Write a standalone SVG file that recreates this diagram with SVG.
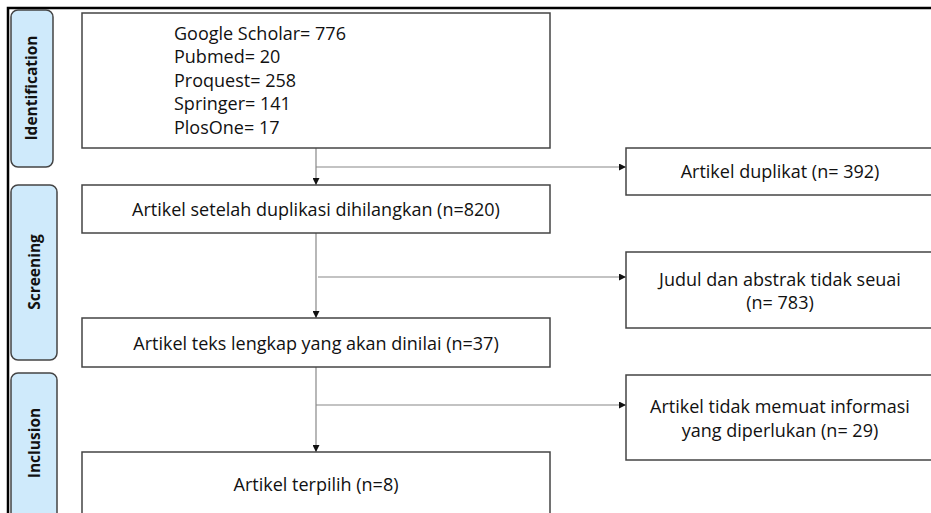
<svg xmlns="http://www.w3.org/2000/svg" width="931" height="513" viewBox="0 0 931 513">
<defs>
<marker id="ah" viewBox="0 0 10 10" refX="10" refY="5" markerWidth="7" markerHeight="7" markerUnits="userSpaceOnUse" orient="auto">
<path d="M0,0 L10,5 L0,10 z" fill="#111"/>
</marker>
<style>
.tab{fill:#cfeafb;stroke:#444;stroke-width:1.5}
.box{fill:#fff;stroke:#444;stroke-width:1.5}
.t{font-family:"Open Sans","Liberation Sans",sans-serif;font-size:18px;fill:#111}
.tl{font-family:"Open Sans","Liberation Sans",sans-serif;font-size:15.5px;font-weight:bold;fill:#111}
.c{fill:none;stroke:#888;stroke-width:1.2}
</style>
</defs>
<rect width="931" height="513" fill="#fff"/>
<path d="M8,513 V8 H931" fill="none" stroke="#000" stroke-width="2.5"/>
<g id="tab-identification">
<rect class="tab" x="11" y="10" width="42" height="157" rx="7"/>
<text class="tl" transform="translate(37,88) rotate(-90)" text-anchor="middle">Identification</text>
</g>
<g id="tab-screening">
<rect class="tab" x="11" y="185" width="46" height="175" rx="7"/>
<text class="tl" transform="translate(40,272) rotate(-90)" text-anchor="middle">Screening</text>
</g>
<g id="tab-inclusion">
<rect class="tab" x="11" y="373" width="46" height="150" rx="7"/>
<text class="tl" transform="translate(40,443) rotate(-90)" text-anchor="middle">Inclusion</text>
</g>
<g id="connectors">
<line class="c" x1="316" y1="148" x2="316" y2="185" marker-end="url(#ah)"/>
<line class="c" x1="316" y1="167" x2="626" y2="167" marker-end="url(#ah)"/>
<line class="c" x1="316" y1="233" x2="316" y2="318" marker-end="url(#ah)"/>
<line class="c" x1="318" y1="277" x2="626" y2="277" marker-end="url(#ah)"/>
<line class="c" x1="316" y1="367" x2="316" y2="452" marker-end="url(#ah)"/>
<line class="c" x1="316" y1="405" x2="626" y2="405" marker-end="url(#ah)"/>
</g>
<g id="node-sources">
<rect class="box" x="82" y="13" width="468" height="135"/>
<text class="t" x="174" y="40">Google Scholar= 776</text>
<text class="t" x="174" y="63">Pubmed= 20</text>
<text class="t" x="174" y="87">Proquest= 258</text>
<text class="t" x="174" y="110">Springer= 141</text>
<text class="t" x="174" y="134">PlosOne= 17</text>
</g>
<g id="node-duplikat">
<rect class="box" x="626" y="148" width="310" height="47"/>
<text class="t" x="780" y="178" text-anchor="middle">Artikel duplikat (n= 392)</text>
</g>
<g id="node-after-dup">
<rect class="box" x="82" y="185" width="468" height="48"/>
<text class="t" x="316" y="216" text-anchor="middle">Artikel setelah duplikasi dihilangkan (n=820)</text>
</g>
<g id="node-judul">
<rect class="box" x="626" y="252" width="310" height="76"/>
<text class="t" x="780" y="286" text-anchor="middle">Judul dan abstrak tidak seuai</text>
<text class="t" x="780" y="309" text-anchor="middle">(n= 783)</text>
</g>
<g id="node-fulltext">
<rect class="box" x="82" y="318" width="468" height="49"/>
<text class="t" x="316" y="350" text-anchor="middle">Artikel teks lengkap yang akan dinilai (n=37)</text>
</g>
<g id="node-tidak-memuat">
<rect class="box" x="626" y="375" width="310" height="85"/>
<text class="t" x="780" y="413" text-anchor="middle">Artikel tidak memuat informasi</text>
<text class="t" x="780" y="437" text-anchor="middle">yang diperlukan (n= 29)</text>
</g>
<g id="node-terpilih">
<rect class="box" x="82" y="452" width="468" height="70"/>
<text class="t" x="316" y="491" text-anchor="middle">Artikel terpilih (n=8)</text>
</g>
</svg>
